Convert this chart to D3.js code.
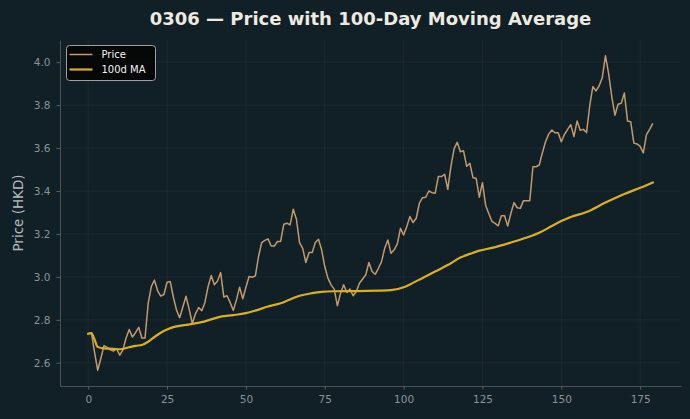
<!DOCTYPE html>
<html lang="en">
<head>
<meta charset="utf-8">
<title>0306 price with 100-day MA</title>
<script src="https://d3js.org/d3.v7.min.js"></script>
<style>
  body { margin: 0; background: #111f26; }
  #chart text { font-family: "DejaVu Sans", sans-serif; }
</style>
</head>
<body>
<div id="chart"></div>
<script>
"use strict"

// closing price, one value per trading day (day 0..179)
var price = [
  2.735, 2.74, 2.65, 2.565, 2.62, 2.68, 2.672, 2.66, 2.655, 2.665,
  2.635, 2.66, 2.715, 2.755, 2.72, 2.74, 2.765, 2.715, 2.715, 2.875,
  2.955, 2.985, 2.935, 2.91, 2.918, 2.975, 2.978, 2.905, 2.845, 2.81,
  2.86, 2.91, 2.85, 2.783, 2.828, 2.857, 2.842, 2.881, 2.955, 3.006,
  2.963, 2.981, 3.02, 2.906, 2.912, 2.881, 2.844, 2.893, 2.952, 2.898,
  2.952, 3.002, 2.998, 3.005, 3.095, 3.16, 3.17, 3.177, 3.144, 3.144,
  3.165, 3.165, 3.245, 3.25, 3.242, 3.315, 3.27, 3.16, 3.133, 3.067,
  3.113, 3.113, 3.16, 3.175, 3.126, 3.048, 2.994, 2.963, 2.943, 2.865,
  2.924, 2.963, 2.927, 2.943, 2.912, 2.932, 2.97, 2.99, 3.01, 3.067,
  3.025, 3.012, 3.04, 3.071, 3.133, 3.172, 3.11, 3.126, 3.154, 3.226,
  3.195, 3.234, 3.281, 3.253, 3.273, 3.343, 3.369, 3.371, 3.40, 3.392,
  3.389, 3.467, 3.467, 3.478, 3.408, 3.515, 3.596, 3.627, 3.583, 3.587,
  3.515, 3.529, 3.462, 3.459, 3.371, 3.439, 3.334, 3.295, 3.259, 3.249,
  3.238, 3.285, 3.285, 3.237, 3.295, 3.346, 3.322, 3.319, 3.355, 3.355,
  3.355, 3.513, 3.513, 3.521, 3.578, 3.629, 3.665, 3.684, 3.671, 3.671,
  3.629, 3.664, 3.687, 3.709, 3.653, 3.726, 3.683, 3.687, 3.672, 3.796,
  3.886, 3.866, 3.89, 3.929, 4.03, 3.947, 3.84, 3.753, 3.804, 3.809,
  3.856, 3.726, 3.723, 3.623, 3.619, 3.608, 3.577, 3.663, 3.687, 3.715
];

var maDays = [0, 1, 2, 3, 5, 8, 10, 13, 15, 17, 19, 21, 23, 25, 27, 29, 33, 37, 42, 46,
  50, 53, 57, 61, 64, 67, 71, 74, 78, 85, 92, 96, 100, 102, 106, 110, 114, 118, 121, 124,
  128, 134, 140, 143, 147, 150, 153, 158, 164, 170, 175, 179];
var maValues = [2.735, 2.738, 2.708, 2.674, 2.667, 2.665, 2.663, 2.672, 2.679, 2.683, 2.698, 2.72, 2.74, 2.755, 2.766, 2.772, 2.781, 2.793, 2.815, 2.822,
  2.831, 2.843, 2.862, 2.877, 2.895, 2.912, 2.924, 2.93, 2.933, 2.934, 2.936, 2.938, 2.952, 2.965, 2.995, 3.025, 3.055, 3.09, 3.107, 3.122,
  3.135, 3.16, 3.188, 3.205, 3.237, 3.26, 3.279, 3.302, 3.346, 3.386, 3.415, 3.44];

var xTicks = [0, 25, 50, 75, 100, 125, 150, 175];
var yTicks = [2.6, 2.8, 3.0, 3.2, 3.4, 3.6, 3.8, 4.0];

var largura = 690, altura = 419;
var margin = {top: 40, right: 9, bottom: 33, left: 60};
var larguraVis = largura - margin.left - margin.right,
    alturaVis = altura - margin.top - margin.bottom;

var corPreco = "#c49a6c", corMedia = "#dbaf1f", corTick = "#8c9396";

var svg = d3.select("#chart").append("svg")
    .attr("width", largura)
    .attr("height", altura);

svg.append("rect").attr("width", largura).attr("height", altura).attr("fill", "#111f26");

var grafico = svg.append("g")
    .attr("transform", "translate(" + margin.left + "," + margin.top + ")");

// matplotlib-like 5% padding
var n = price.length - 1;
var x = d3.scaleLinear().domain([-n * 0.05, n * 1.05]).range([0, larguraVis]);
var yMin = d3.min(price), yMax = d3.max(price), pad = (yMax - yMin) * 0.05;
var y = d3.scaleLinear().domain([yMin - pad, yMax + pad]).range([alturaVis, 0]);

// grid
grafico.append("g").selectAll("line").data(xTicks).enter().append("line")
    .attr("x1", d => x(d)).attr("x2", d => x(d))
    .attr("y1", 0).attr("y2", alturaVis)
    .attr("stroke", "#ffffff").attr("stroke-opacity", 0.045);
grafico.append("g").selectAll("line").data(yTicks).enter().append("line")
    .attr("y1", d => y(d)).attr("y2", d => y(d))
    .attr("x1", 0).attr("x2", larguraVis)
    .attr("stroke", "#ffffff").attr("stroke-opacity", 0.045);

// eixos
var eixoX = grafico.append("g")
    .attr("transform", "translate(0," + alturaVis + ")")
    .call(d3.axisBottom(x).tickValues(xTicks).tickSize(3.5).tickSizeOuter(0).tickPadding(6));
var eixoY = grafico.append("g")
    .call(d3.axisLeft(y).tickValues(yTicks).tickSize(3.5).tickSizeOuter(0).tickPadding(6).tickFormat(d3.format(".1f")));

[eixoX, eixoY].forEach(function(e) {
  e.select(".domain").attr("stroke", "#4a5256").attr("stroke-width", 1);
  e.selectAll(".tick line").attr("stroke", "#5a6266");
  e.selectAll(".tick text").attr("fill", corTick).style("font-size", "10.5px");
});

// linhas
var linhaPreco = d3.line().x((d, i) => x(i)).y(d => y(d));
grafico.append("path")
    .datum(price)
    .attr("fill", "none")
    .attr("stroke", corPreco)
    .attr("stroke-width", 1.5)
    .attr("stroke-linejoin", "round")
    .attr("d", linhaPreco);

var linhaMedia = d3.line().x((d, i) => x(maDays[i])).y(d => y(d)).curve(d3.curveMonotoneX);
grafico.append("path")
    .datum(maValues)
    .attr("fill", "none")
    .attr("stroke", corMedia)
    .attr("stroke-width", 2.2)
    .attr("stroke-linecap", "square")
    .attr("d", linhaMedia);

// titulo e rotulo
svg.append("text")
    .attr("x", margin.left + larguraVis / 2)
    .attr("y", 24.5)
    .attr("text-anchor", "middle")
    .attr("fill", "#efeae0")
    .style("font-size", "18px")
    .style("font-weight", "bold")
    .text("0306 — Price with 100-Day Moving Average");

svg.append("text")
    .attr("transform", "translate(23," + (margin.top + alturaVis / 2) + ") rotate(-90)")
    .attr("text-anchor", "middle")
    .attr("fill", "#b4babd")
    .style("font-size", "13.5px")
    .text("Price (HKD)");

// legenda
var legenda = svg.append("g").attr("transform", "translate(66.5,45.5)");
legenda.append("rect")
    .attr("width", 89).attr("height", 35).attr("rx", 3)
    .attr("fill", "#050505").attr("fill-opacity", 0.9)
    .attr("stroke", "#a0a0a0").attr("stroke-width", 1);
var itens = [{nome: "Price", cor: corPreco, w: 1.5}, {nome: "100d MA", cor: corMedia, w: 2.2}];
itens.forEach(function(it, i) {
  var yy = 9 + i * 15;
  legenda.append("line").attr("x1", 3).attr("x2", 26).attr("y1", yy).attr("y2", yy)
      .attr("stroke", it.cor).attr("stroke-width", it.w);
  legenda.append("text").attr("x", 35).attr("y", yy + 3.5)
      .attr("fill", "#f2f2f2").style("font-size", "10px").text(it.nome);
});
</script>
</body>
</html>
